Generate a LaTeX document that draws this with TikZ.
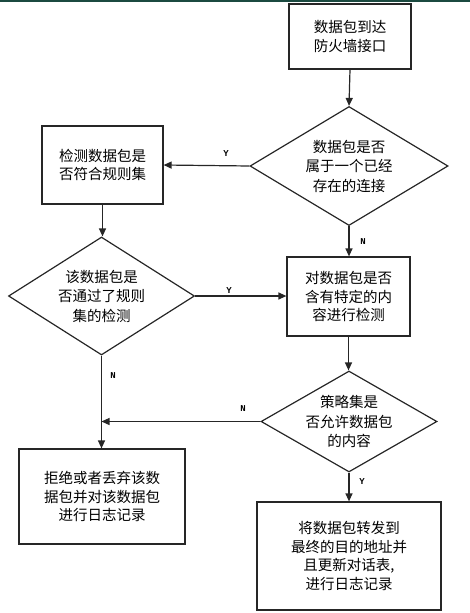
\documentclass[tikz,border=0pt]{standalone}
\usepackage{fontspec}
\newfontfamily\cjk{Noto Sans CJK SC}
\newfontfamily\lblfont{Liberation Mono}
\usetikzlibrary{shapes.geometric,arrows.meta}
\definecolor{topbar}{HTML}{1B4A40}
\tikzset{
  x=1pt, y=-1pt,
  ln/.style={draw=black!85, line width=1.2pt},
  box/.style={ln, rectangle, inner sep=0pt},
  dia/.style={ln, diamond, inner sep=0pt},
  txt/.style={align=center, inner sep=0pt, font=\cjk\fontsize{14.5}{18.5}\selectfont},
  dtxt/.style={align=center, inner sep=0pt, font=\cjk\fontsize{14.5}{19.5}\selectfont},
  arr/.style={ln, -{Triangle[length=8pt,width=7pt]}},
  lbl/.style={inner sep=0pt, font=\lblfont\bfseries\fontsize{9}{9}\selectfont},
}
\begin{document}
\begin{tikzpicture}
\useasboundingbox (0,0) rectangle (470,613);
\fill[topbar] (0,0) rectangle (470,1.5);
% boxes
\node[box, minimum width=122, minimum height=65] (b1) at (350,36.5) {};
\node[txt] (b1t) at (b1) {数据包到达\\防火墙接口};
\node[dia, minimum width=198, minimum height=119] (d1) at (349,166) {};
\node[dtxt] (d1t) at (d1) {数据包是否\\属于一个已经\\存在的连接};
\node[box, minimum width=121, minimum height=78] (b2) at (102.5,165) {};
\node[txt] (b2t) at (b2) {检测数据包是\\否符合规则集};
\node[dia, minimum width=186, minimum height=118] (d2) at (101.5,296) {};
\node[dtxt] (d2t) at (d2) {该数据包是\\否通过了规则\\集的检测};
\node[box, minimum width=123, minimum height=79] (b3) at (348.5,296.5) {};
\node[txt] (b3t) at (b3) {对数据包是否\\含有特定的内\\容进行检测};
\node[dia, minimum width=176, minimum height=101] (d3) at (349,421.5) {};
\node[dtxt] (d3t) at (d3) {策略集是\\否允许数据包\\的内容};
\node[box, minimum width=166, minimum height=95] (b4) at (102,496.5) {};
\node[txt] (b4t) at (b4) {拒绝或者丢弃该数\\据包并对该数据包\\进行日志记录};
\node[box, minimum width=184, minimum height=108] (b5) at (349,556) {};
\node[txt] (b5t) at (b5) {将数据包转发到\\最终的目的地址并\\且更新对话表,\\进行日志记录};
% connectors
\draw[arr] (b1.south) -- (d1.north);
\draw[arr] (d1.west) -- (b2.east);
\draw[arr] (b2.south) -- (b2.south |- d2.north);
\draw[arr] (d1.south) -- (d1.south |- b3.north);
\draw[arr] (d2.east) -- (d2.east -| b3.west);
\draw[arr] (b3.south) -- (b3.south |- d3.north);
\draw[arr] (d2.south) -- (d2.south |- b4.north);
\coordinate (j) at (d2.south |- d3.west);
\draw[arr] (d3.west) -- (j);
\draw[arr] (d3.south) -- (d3.south |- b5.north);
% labels
\node[lbl] (ly1) at (226,154) {Y};
\node[lbl] (ln1) at (363,242) {N};
\node[lbl] (ly2) at (229,291) {Y};
\node[lbl] (ln2) at (113,376) {N};
\node[lbl] (ln3) at (243,409) {N};
\node[lbl] (ly3) at (362,482) {Y};
\end{tikzpicture}
\end{document}
